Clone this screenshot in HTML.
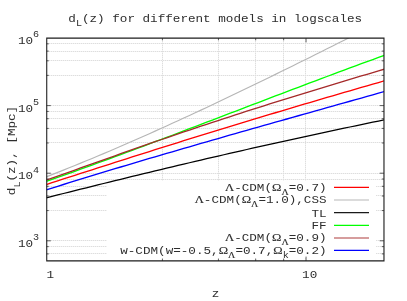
<!DOCTYPE html>
<html><head><meta charset="utf-8"><title>dL(z)</title>
<style>html,body{margin:0;padding:0;background:#fff}svg{display:block;will-change:transform}</style></head>
<body>
<svg width="407" height="301" viewBox="0 0 407 301">
<rect width="407" height="301" fill="#fff"/>
<defs><clipPath id="c"><rect x="46.55" y="38.12" width="337.43" height="222.80"/></clipPath></defs>
<path d="M47 253.5 H107 M376 253.5 H384 M47 246.5 H107 M376 246.5 H384 M47 240.5 H107 M376 240.5 H384 M47 210.5 H107 M376 210.5 H384 M47 195.5 H107 M376 195.5 H384 M47 186.5 H107 M376 186.5 H384 M47 179.5 H384 M47 173.5 H384 M47 142.5 H384 M47 128.5 H384 M47 118.5 H384 M47 111.5 H384 M47 105.5 H384 M47 75.5 H384 M47 60.5 H384 M47 51.5 H384 M47 43.5 H384 M162.5 39 V181 M162.5 258 V261 M218.5 39 V181 M218.5 258 V261 M255.5 39 V181 M255.5 258 V261 M283.5 39 V181 M283.5 258 V261 M305.5 39 V181 M305.5 258 V261" stroke="#f2f2f2" stroke-width="1" fill="none"/>
<path d="M47 253.5 H107 M376 253.5 H384 M47 246.5 H107 M376 246.5 H384 M47 240.5 H107 M376 240.5 H384 M47 210.5 H107 M376 210.5 H384 M47 195.5 H107 M376 195.5 H384 M47 186.5 H107 M376 186.5 H384 M47 179.5 H384 M47 173.5 H384 M47 142.5 H384 M47 128.5 H384 M47 118.5 H384 M47 111.5 H384 M47 105.5 H384 M47 75.5 H384 M47 60.5 H384 M47 51.5 H384 M47 43.5 H384 M162.5 39 V181 M162.5 258 V261 M218.5 39 V181 M218.5 258 V261 M255.5 39 V181 M255.5 258 V261 M283.5 39 V181 M283.5 258 V261 M305.5 39 V181 M305.5 258 V261" stroke="#dedede" stroke-width="1" stroke-dasharray="1 1" fill="none"/>
<g clip-path="url(#c)" fill="none" stroke-width="1.4" stroke-linejoin="round">
<path d="M46.25 184.51 L51.98 182.67 L57.71 180.83 L63.44 178.98 L69.17 177.14 L74.89 175.29 L80.62 173.45 L86.35 171.61 L92.08 169.77 L97.81 167.93 L103.54 166.09 L109.27 164.26 L115.00 162.43 L120.73 160.60 L126.46 158.77 L132.18 156.95 L137.91 155.13 L143.64 153.32 L149.37 151.51 L155.10 149.70 L160.83 147.90 L166.56 146.10 L172.29 144.30 L178.02 142.52 L183.74 140.73 L189.47 138.95 L195.20 137.17 L200.93 135.40 L206.66 133.63 L212.39 131.87 L218.12 130.11 L223.85 128.35 L229.58 126.60 L235.31 124.86 L241.03 123.12 L246.76 121.38 L252.49 119.65 L258.22 117.92 L263.95 116.19 L269.68 114.47 L275.41 112.75 L281.14 111.04 L286.87 109.33 L292.59 107.63 L298.32 105.93 L304.05 104.23 L309.78 102.54 L315.51 100.85 L321.24 99.17 L326.97 97.48 L332.70 95.81 L338.43 94.13 L344.15 92.46 L349.88 90.80 L355.61 89.13 L361.34 87.47 L367.07 85.81 L372.80 84.16 L378.53 82.51 L384.26 80.86" stroke="#ff0000" stroke-width="1.32"/>
<path d="M46.25 176.89 L51.98 174.65 L57.71 172.39 L63.44 170.10 L69.17 167.80 L74.89 165.48 L80.62 163.14 L86.35 160.78 L92.08 158.41 L97.81 156.01 L103.54 153.60 L109.27 151.17 L115.00 148.72 L120.73 146.26 L126.46 143.77 L132.18 141.28 L137.91 138.76 L143.64 136.23 L149.37 133.68 L155.10 131.12 L160.83 128.54 L166.56 125.95 L172.29 123.34 L178.02 120.72 L183.74 118.09 L189.47 115.44 L195.20 112.78 L200.93 110.11 L206.66 107.42 L212.39 104.72 L218.12 102.01 L223.85 99.29 L229.58 96.56 L235.31 93.82 L241.03 91.07 L246.76 88.31 L252.49 85.54 L258.22 82.76 L263.95 79.97 L269.68 77.18 L275.41 74.37 L281.14 71.56 L286.87 68.74 L292.59 65.91 L298.32 63.08 L304.05 60.24 L309.78 57.39 L315.51 54.54 L321.24 51.68 L326.97 48.82 L332.70 45.95 L338.43 43.07 L344.15 40.19 L349.88 37.31 L355.61 34.42 L361.34 31.53 L367.07 28.63 L372.80 25.73 L378.53 22.82 L384.26 19.91" stroke="#b6b6b6" stroke-width="1.15"/>
<path d="M46.25 197.83 L51.98 196.38 L57.71 194.94 L63.44 193.50 L69.17 192.06 L74.89 190.63 L80.62 189.19 L86.35 187.77 L92.08 186.34 L97.81 184.92 L103.54 183.50 L109.27 182.09 L115.00 180.68 L120.73 179.27 L126.46 177.87 L132.18 176.47 L137.91 175.08 L143.64 173.69 L149.37 172.30 L155.10 170.92 L160.83 169.55 L166.56 168.18 L172.29 166.81 L178.02 165.45 L183.74 164.09 L189.47 162.74 L195.20 161.39 L200.93 160.05 L206.66 158.72 L212.39 157.39 L218.12 156.06 L223.85 154.74 L229.58 153.42 L235.31 152.11 L241.03 150.81 L246.76 149.51 L252.49 148.21 L258.22 146.93 L263.95 145.64 L269.68 144.36 L275.41 143.09 L281.14 141.82 L286.87 140.56 L292.59 139.30 L298.32 138.05 L304.05 136.80 L309.78 135.56 L315.51 134.32 L321.24 133.09 L326.97 131.87 L332.70 130.64 L338.43 129.43 L344.15 128.22 L349.88 127.01 L355.61 125.81 L361.34 124.61 L367.07 123.42 L372.80 122.23 L378.53 121.05 L384.26 119.87" stroke="#000000" stroke-width="1.25"/>
<path d="M46.25 181.46 L51.98 179.45 L57.71 177.42 L63.44 175.39 L69.17 173.34 L74.89 171.29 L80.62 169.23 L86.35 167.16 L92.08 165.08 L97.81 162.99 L103.54 160.89 L109.27 158.79 L115.00 156.68 L120.73 154.56 L126.46 152.44 L132.18 150.31 L137.91 148.17 L143.64 146.03 L149.37 143.89 L155.10 141.73 L160.83 139.58 L166.56 137.42 L172.29 135.25 L178.02 133.09 L183.74 130.91 L189.47 128.74 L195.20 126.56 L200.93 124.38 L206.66 122.20 L212.39 120.02 L218.12 117.83 L223.85 115.65 L229.58 113.46 L235.31 111.28 L241.03 109.09 L246.76 106.90 L252.49 104.72 L258.22 102.53 L263.95 100.35 L269.68 98.17 L275.41 95.99 L281.14 93.81 L286.87 91.63 L292.59 89.46 L298.32 87.29 L304.05 85.12 L309.78 82.96 L315.51 80.80 L321.24 78.65 L326.97 76.50 L332.70 74.35 L338.43 72.22 L344.15 70.08 L349.88 67.96 L355.61 65.83 L361.34 63.72 L367.07 61.61 L372.80 59.51 L378.53 57.42 L384.26 55.34" stroke="#00ff00" stroke-width="1.32"/>
<path d="M46.25 180.19 L51.98 178.17 L57.71 176.13 L63.44 174.10 L69.17 172.06 L74.89 170.02 L80.62 167.98 L86.35 165.94 L92.08 163.90 L97.81 161.86 L103.54 159.82 L109.27 157.79 L115.00 155.76 L120.73 153.74 L126.46 151.72 L132.18 149.71 L137.91 147.70 L143.64 145.70 L149.37 143.71 L155.10 141.73 L160.83 139.75 L166.56 137.79 L172.29 135.83 L178.02 133.88 L183.74 131.95 L189.47 130.02 L195.20 128.10 L200.93 126.19 L206.66 124.29 L212.39 122.40 L218.12 120.51 L223.85 118.64 L229.58 116.78 L235.31 114.92 L241.03 113.08 L246.76 111.24 L252.49 109.41 L258.22 107.59 L263.95 105.77 L269.68 103.97 L275.41 102.17 L281.14 100.38 L286.87 98.60 L292.59 96.82 L298.32 95.05 L304.05 93.29 L309.78 91.53 L315.51 89.78 L321.24 88.04 L326.97 86.30 L332.70 84.57 L338.43 82.84 L344.15 81.12 L349.88 79.41 L355.61 77.70 L361.34 75.99 L367.07 74.29 L372.80 72.60 L378.53 70.91 L384.26 69.23" stroke="#a52a2a" stroke-width="1.32"/>
<path d="M46.25 189.89 L51.98 188.09 L57.71 186.29 L63.44 184.50 L69.17 182.72 L74.89 180.95 L80.62 179.18 L86.35 177.42 L92.08 175.67 L97.81 173.92 L103.54 172.18 L109.27 170.45 L115.00 168.72 L120.73 167.00 L126.46 165.29 L132.18 163.58 L137.91 161.87 L143.64 160.17 L149.37 158.48 L155.10 156.79 L160.83 155.11 L166.56 153.43 L172.29 151.76 L178.02 150.09 L183.74 148.42 L189.47 146.76 L195.20 145.10 L200.93 143.45 L206.66 141.80 L212.39 140.15 L218.12 138.51 L223.85 136.87 L229.58 135.23 L235.31 133.60 L241.03 131.96 L246.76 130.33 L252.49 128.71 L258.22 127.08 L263.95 125.46 L269.68 123.84 L275.41 122.22 L281.14 120.60 L286.87 118.99 L292.59 117.37 L298.32 115.76 L304.05 114.15 L309.78 112.53 L315.51 110.92 L321.24 109.31 L326.97 107.70 L332.70 106.09 L338.43 104.48 L344.15 102.87 L349.88 101.26 L355.61 99.65 L361.34 98.03 L367.07 96.42 L372.80 94.81 L378.53 93.19 L384.26 91.57" stroke="#0000ff" stroke-width="1.32"/>
</g>
<path d="M46.55 253.90 h2.20 M383.98 253.90 h-2.20 M46.55 246.63 h2.20 M383.98 246.63 h-2.20 M46.55 240.80 h4.30 M383.98 240.80 h-4.30 M46.55 210.57 h2.20 M383.98 210.57 h-2.20 M46.55 196.00 h2.20 M383.98 196.00 h-2.20 M46.55 186.30 h2.20 M383.98 186.30 h-2.20 M46.55 179.03 h2.20 M383.98 179.03 h-2.20 M46.55 173.20 h4.30 M383.98 173.20 h-4.30 M46.55 142.97 h2.20 M383.98 142.97 h-2.20 M46.55 128.40 h2.20 M383.98 128.40 h-2.20 M46.55 118.70 h2.20 M383.98 118.70 h-2.20 M46.55 111.43 h2.20 M383.98 111.43 h-2.20 M46.55 105.60 h4.30 M383.98 105.60 h-4.30 M46.55 75.37 h2.20 M383.98 75.37 h-2.20 M46.55 60.80 h2.20 M383.98 60.80 h-2.20 M46.55 51.10 h2.20 M383.98 51.10 h-2.20 M46.55 43.83 h2.20 M383.98 43.83 h-2.20 M162.42 260.92 v-2.20 M162.42 38.12 v2.20 M218.43 260.92 v-2.20 M218.43 38.12 v2.20 M255.70 260.92 v-2.20 M255.70 38.12 v2.20 M283.66 260.92 v-2.20 M283.66 38.12 v2.20 M306.05 260.92 v-4.30 M306.05 38.12 v4.30" stroke="#3a3a3a" stroke-width="0.8" fill="none"/>
<path d="M46.2 37.45 H384.53 V261.53 H46.2 Z M47.27 38.67 V260.33 H383.42 V38.67 Z" fill="#1c1c1c" fill-rule="evenodd"/>
<g font-family="Liberation Mono, monospace" font-size="12.64" fill="#2e2e2e">
<text transform="translate(68.30 22.10) scale(1 0.870)" text-anchor="start" xml:space="preserve">d<tspan dy="5.00" font-size="10.11">L</tspan><tspan dy="-5.00" font-size="0.1">&#8203;</tspan>(z) for different models in logscales</text>
<text transform="translate(17.90 44.00) scale(1 0.870)" text-anchor="start" xml:space="preserve">10<tspan dy="-7.7" font-size="10.11">6</tspan></text>
<text transform="translate(17.90 111.60) scale(1 0.870)" text-anchor="start" xml:space="preserve">10<tspan dy="-7.7" font-size="10.11">5</tspan></text>
<text transform="translate(17.90 179.20) scale(1 0.870)" text-anchor="start" xml:space="preserve">10<tspan dy="-7.7" font-size="10.11">4</tspan></text>
<text transform="translate(17.90 246.80) scale(1 0.870)" text-anchor="start" xml:space="preserve">10<tspan dy="-7.7" font-size="10.11">3</tspan></text>
<text transform="translate(46.50 278.00) scale(1 0.870)" text-anchor="start" xml:space="preserve">1</text>
<text transform="translate(302.10 278.00) scale(1 0.870)" text-anchor="start" xml:space="preserve">10</text>
<text transform="translate(211.70 297.00) scale(1 0.870)" text-anchor="start" xml:space="preserve">z</text>
<text transform="translate(15.40 195.20) rotate(-90) scale(1 0.870)" text-anchor="start" xml:space="preserve">d<tspan dy="5.00" font-size="10.11">L</tspan><tspan dy="-5.00" font-size="0.1">&#8203;</tspan>(z), [Mpc]</text>
<text transform="translate(326.60 190.90) scale(1 0.870)" text-anchor="end" xml:space="preserve"><tspan font-family="Liberation Serif, serif" font-size="12.64" stroke="#2e2e2e" stroke-width="0.18">&#923;</tspan>-CDM(<tspan font-family="Liberation Serif, serif" font-size="12.64" stroke="#2e2e2e" stroke-width="0.18">&#937;</tspan><tspan dy="4.20" font-size="10.11" font-family="Liberation Serif, serif" stroke="#2e2e2e" stroke-width="0.12">&#923;</tspan><tspan dy="-4.20" font-size="0.1">&#8203;</tspan>=0.7)</text>
<text transform="translate(326.60 203.10) scale(1 0.870)" text-anchor="end" xml:space="preserve"><tspan font-family="Liberation Serif, serif" font-size="12.64" stroke="#2e2e2e" stroke-width="0.18">&#923;</tspan>-CDM(<tspan font-family="Liberation Serif, serif" font-size="12.64" stroke="#2e2e2e" stroke-width="0.18">&#937;</tspan><tspan dy="4.20" font-size="10.11" font-family="Liberation Serif, serif" stroke="#2e2e2e" stroke-width="0.12">&#923;</tspan><tspan dy="-4.20" font-size="0.1">&#8203;</tspan>=1.0),CSS</text>
<text transform="translate(326.60 216.50) scale(1 0.870)" text-anchor="end" xml:space="preserve">TL</text>
<text transform="translate(326.60 229.40) scale(1 0.870)" text-anchor="end" xml:space="preserve">FF</text>
<text transform="translate(326.60 241.30) scale(1 0.870)" text-anchor="end" xml:space="preserve"><tspan font-family="Liberation Serif, serif" font-size="12.64" stroke="#2e2e2e" stroke-width="0.18">&#923;</tspan>-CDM(<tspan font-family="Liberation Serif, serif" font-size="12.64" stroke="#2e2e2e" stroke-width="0.18">&#937;</tspan><tspan dy="4.20" font-size="10.11" font-family="Liberation Serif, serif" stroke="#2e2e2e" stroke-width="0.12">&#923;</tspan><tspan dy="-4.20" font-size="0.1">&#8203;</tspan>=0.9)</text>
<text transform="translate(326.60 254.10) scale(1 0.870)" text-anchor="end" xml:space="preserve">w-CDM(w=-0.5,<tspan font-family="Liberation Serif, serif" font-size="12.64" stroke="#2e2e2e" stroke-width="0.18">&#937;</tspan><tspan dy="4.20" font-size="10.11" font-family="Liberation Serif, serif" stroke="#2e2e2e" stroke-width="0.12">&#923;</tspan><tspan dy="-4.20" font-size="0.1">&#8203;</tspan>=0.7,<tspan font-family="Liberation Serif, serif" font-size="12.64" stroke="#2e2e2e" stroke-width="0.18">&#937;</tspan><tspan dy="4.20" font-size="10.11">k</tspan><tspan dy="-4.20" font-size="0.1">&#8203;</tspan>=0.2)</text>
</g>
<path d="M334 187.45 H369" stroke="#ff0000" stroke-width="1.2"/>
<path d="M334 200.00 H369" stroke="#b8b8b8" stroke-width="1.2"/>
<path d="M334 212.60 H369" stroke="#1a1a1a" stroke-width="1.2"/>
<path d="M334 225.30 H369" stroke="#00ff00" stroke-width="1.2"/>
<path d="M334 238.00 H369" stroke="#ad3c3c" stroke-width="1.2"/>
<path d="M334 250.45 H369" stroke="#0000ff" stroke-width="1.2"/>
</svg>
</body></html>
